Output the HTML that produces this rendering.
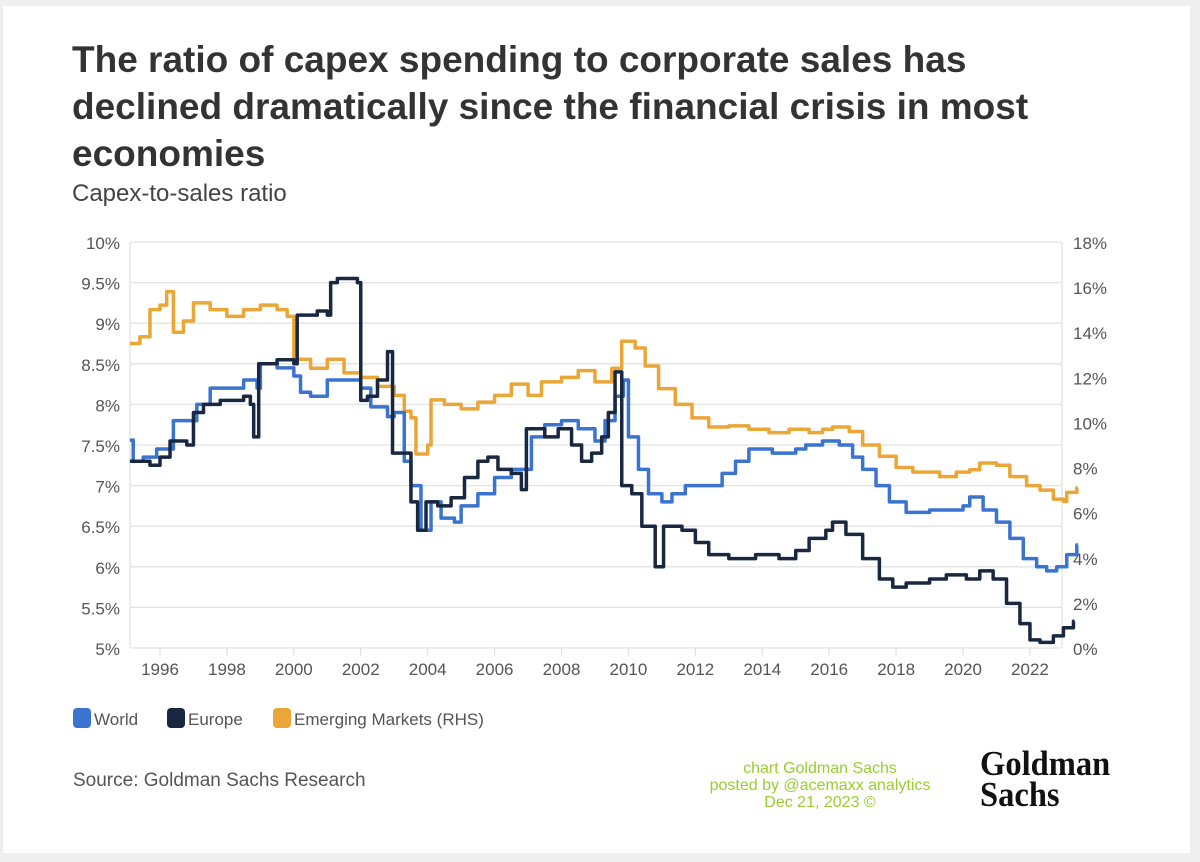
<!DOCTYPE html>
<html><head><meta charset="utf-8">
<style>
html,body{margin:0;padding:0;background:#efefef;}
body{width:1200px;height:862px;position:relative;overflow:hidden;font-family:"Liberation Sans",sans-serif;}
#card{position:absolute;left:3px;top:6px;width:1187px;height:847px;background:#fff;}
#title{position:absolute;left:72px;top:36px;width:990px;font-size:37px;font-weight:bold;color:#333;line-height:47px;}
#subtitle{position:absolute;left:72px;top:180px;font-size:24px;color:#444;}
#source{position:absolute;left:73px;top:770px;font-size:19px;color:#555;}
#wm{position:absolute;left:660px;top:760px;width:320px;text-align:center;font-size:16px;color:#9acd32;line-height:17px;}
#logo{position:absolute;left:980px;top:748px;font-family:"Liberation Serif",serif;font-weight:bold;font-size:35px;line-height:31px;color:#111;transform:scaleX(0.93);transform-origin:left top;}
</style></head><body>
<div id="card"></div>
<div id="title">The ratio of capex spending to corporate sales has declined dramatically since the financial crisis in most economies</div>
<div id="subtitle">Capex-to-sales ratio</div>
<svg id="chart" width="1200" height="862" style="position:absolute;left:0;top:0"></svg>
<div id="source">Source: Goldman Sachs Research</div>
<div id="wm">chart Goldman Sachs<br>posted by @acemaxx analytics<br>Dec 21, 2023 ©</div>
<div id="logo">Goldman<br>Sachs</div>
<script>
const leftTicks=["5%","5.5%","6%","6.5%","7%","7.5%","8%","8.5%","9%","9.5%","10%"];
const leftTickVals=[5,5.5,6,6.5,7,7.5,8,8.5,9,9.5,10];
const rightTickVals=[0,2,4,6,8,10,12,14,16,18];
const xTickYears=[1996,1998,2000,2002,2004,2006,2008,2010,2012,2014,2016,2018,2020,2022];
const worldDates=[1995.1,1995.2,1995.5,1995.9,1996.4,1997.1,1997.5,1998.0,1998.5,1998.9,1999.0,1999.5,2000.0,2000.2,2000.5,2001.0,2002.0,2002.3,2002.8,2003.0,2003.3,2003.5,2003.8,2004.1,2004.4,2004.8,2005.0,2005.5,2006.0,2006.5,2007.0,2007.1,2007.5,2008.0,2008.5,2009.0,2009.3,2009.6,2009.85,2010.0,2010.3,2010.6,2011.0,2011.3,2011.7,2012.3,2012.8,2013.2,2013.6,2014.3,2015.0,2015.3,2015.8,2016.3,2016.7,2017.0,2017.4,2017.8,2018.3,2019.0,2019.6,2020.0,2020.2,2020.6,2021.0,2021.4,2021.8,2022.2,2022.5,2022.8,2023.1,2023.4];
const worldVals=[7.56,7.3,7.35,7.45,7.8,8.0,8.2,8.2,8.3,8.2,8.5,8.45,8.35,8.15,8.1,8.3,8.2,7.97,7.85,7.9,7.3,7.0,6.45,6.8,6.6,6.55,6.75,6.9,7.1,7.2,7.2,7.6,7.75,7.8,7.7,7.55,7.8,8.1,8.3,7.6,7.2,6.9,6.8,6.9,7.0,7.0,7.15,7.3,7.45,7.4,7.45,7.5,7.55,7.5,7.35,7.2,7.0,6.8,6.67,6.7,6.7,6.75,6.86,6.7,6.55,6.35,6.1,6.0,5.95,6.0,6.15,6.27];
const europeDates=[1995.1,1995.7,1996.0,1996.3,1996.8,1997.0,1997.3,1997.8,1998.5,1998.7,1998.8,1998.95,1999.5,2000.0,2000.1,2000.7,2001.0,2001.1,2001.3,2001.9,2002.0,2002.2,2002.5,2002.8,2002.95,2003.3,2003.5,2003.7,2003.95,2004.3,2004.7,2005.1,2005.5,2005.8,2006.1,2006.5,2006.8,2006.95,2007.5,2007.9,2008.3,2008.6,2008.9,2009.2,2009.4,2009.6,2009.8,2010.1,2010.4,2010.8,2011.05,2011.6,2012.0,2012.4,2013.0,2013.8,2014.5,2015.0,2015.4,2015.9,2016.1,2016.5,2017.0,2017.5,2017.9,2018.3,2019.0,2019.5,2020.1,2020.5,2020.9,2021.3,2021.7,2022.0,2022.3,2022.7,2023.0,2023.3];
const europeVals=[7.3,7.25,7.35,7.55,7.5,7.9,8.0,8.05,8.1,8.0,7.6,8.5,8.55,8.5,9.1,9.15,9.1,9.5,9.55,9.5,8.05,8.1,8.3,8.65,7.4,7.4,6.8,6.45,6.8,6.75,6.85,7.1,7.3,7.35,7.2,7.15,6.95,7.7,7.6,7.7,7.5,7.3,7.4,7.6,7.9,8.4,7.0,6.9,6.5,6.0,6.5,6.45,6.3,6.15,6.1,6.15,6.1,6.2,6.35,6.45,6.55,6.4,6.1,5.85,5.75,5.8,5.85,5.9,5.85,5.95,5.85,5.55,5.3,5.1,5.07,5.15,5.25,5.33];
const emDates=[1995.1,1995.4,1995.7,1996.0,1996.2,1996.4,1996.7,1997.0,1997.5,1998.0,1998.5,1999.0,1999.5,1999.8,2000.0,2000.5,2001.0,2001.5,2002.0,2002.5,2003.0,2003.3,2003.5,2003.65,2004.0,2004.1,2004.5,2005.0,2005.5,2006.0,2006.5,2007.0,2007.4,2008.0,2008.5,2009.0,2009.5,2009.8,2010.2,2010.5,2010.9,2011.4,2011.9,2012.4,2013.0,2013.6,2014.2,2014.8,2015.4,2015.8,2016.1,2016.6,2017.0,2017.5,2018.0,2018.5,2019.3,2019.8,2020.2,2020.5,2021.0,2021.4,2021.9,2022.3,2022.7,2023.0,2023.1,2023.4];
const emVals=[13.5,13.8,15.0,15.2,15.8,14.0,14.5,15.3,15.0,14.7,15.0,15.2,15.0,14.7,12.8,12.4,12.8,12.2,12.0,11.6,11.2,10.5,10.2,8.6,9.0,11.0,10.8,10.6,10.9,11.2,11.7,11.2,11.8,12.0,12.3,11.8,12.4,13.6,13.3,12.5,11.5,10.8,10.2,9.8,9.85,9.7,9.55,9.7,9.55,9.7,9.8,9.6,9.0,8.5,8.0,7.8,7.6,7.8,7.9,8.2,8.1,7.6,7.2,7.0,6.6,6.5,6.9,7.1];

const NS="http://www.w3.org/2000/svg";
const svg=document.getElementById('chart');
const X0=130,X1=1062,YT=242,YB=648;
function xs(t){return 160+(t-1996)*33.46;}
function yl(v){return YB-(v-5)/5*(YB-YT);}
function yr(v){return YB-v/18*(YB-YT);}
function mk(tag,attrs){const e=document.createElementNS(NS,tag);for(const k in attrs)e.setAttribute(k,attrs[k]);svg.appendChild(e);return e;}
leftTickVals.forEach((v,i)=>{
  const g=mk('line',{x1:X0,x2:X1,y1:yl(v),y2:yl(v),stroke:'#e3e3e3','stroke-width':1.3});
  
  
  const t=mk('text',{x:120,y:yl(v)+7,'text-anchor':'end','font-size':17,fill:'#555','font-family':'Liberation Sans, sans-serif'});
  t.textContent=leftTicks[i];
  
  
});
rightTickVals.forEach(v=>{
  const t=mk('text',{x:1073,y:yr(v)+7,'font-size':17,fill:'#555','font-family':'Liberation Sans, sans-serif'});
  t.textContent=v+'%';
  
  
});
const ax=mk('line',{x1:X0,x2:X0,y1:YT,y2:YB,stroke:'#e3e3e3','stroke-width':1.3});


const ax2=mk('line',{x1:X1,x2:X1,y1:YT,y2:YB,stroke:'#e3e3e3','stroke-width':1.3});


xTickYears.forEach(y=>{
  const tk=mk('line',{x1:xs(y),x2:xs(y),y1:YB,y2:YB+8,stroke:'#e3e3e3','stroke-width':1.3});
  
  
  const t=mk('text',{x:xs(y),y:YB+27,'text-anchor':'middle','font-size':17,fill:'#555','font-family':'Liberation Sans, sans-serif'});
  t.textContent=y;
  
  
});
function stepPath(d,v,yf){
  let p='';
  for(let i=0;i<d.length;i++){
    const x=xs(d[i]),y=yf(v[i]);
    if(i===0)p+='M'+x+','+y;else p+='H'+x+'V'+y;
  }
  p+='H'+xs(d[d.length-1]+0.03);
  return p;
}
const em=mk('path',{d:stepPath(emDates,emVals,yr),fill:'none',stroke:'#eaa636','stroke-width':3.5,'stroke-linejoin':'round'});


const wd=mk('path',{d:stepPath(worldDates,worldVals,yl),fill:'none',stroke:'#3b73d0','stroke-width':3.5,'stroke-linejoin':'round'});


const eu=mk('path',{d:stepPath(europeDates,europeVals,yl),fill:'none',stroke:'#1a2741','stroke-width':3.5,'stroke-linejoin':'round'});


const legend=[["World","#3b73d0",73],["Europe","#1a2741",167],["Emerging Markets (RHS)","#eaa636",273]];
legend.forEach(l=>{
  const r=mk('rect',{x:l[2],y:708,width:18,height:20,rx:4,fill:l[1]});
  
  
  const t=mk('text',{x:l[2]+21,y:725,'font-size':17,fill:'#555','font-family':'Liberation Sans, sans-serif'});
  t.textContent=l[0];
  
  
});
</script>
</body></html>
